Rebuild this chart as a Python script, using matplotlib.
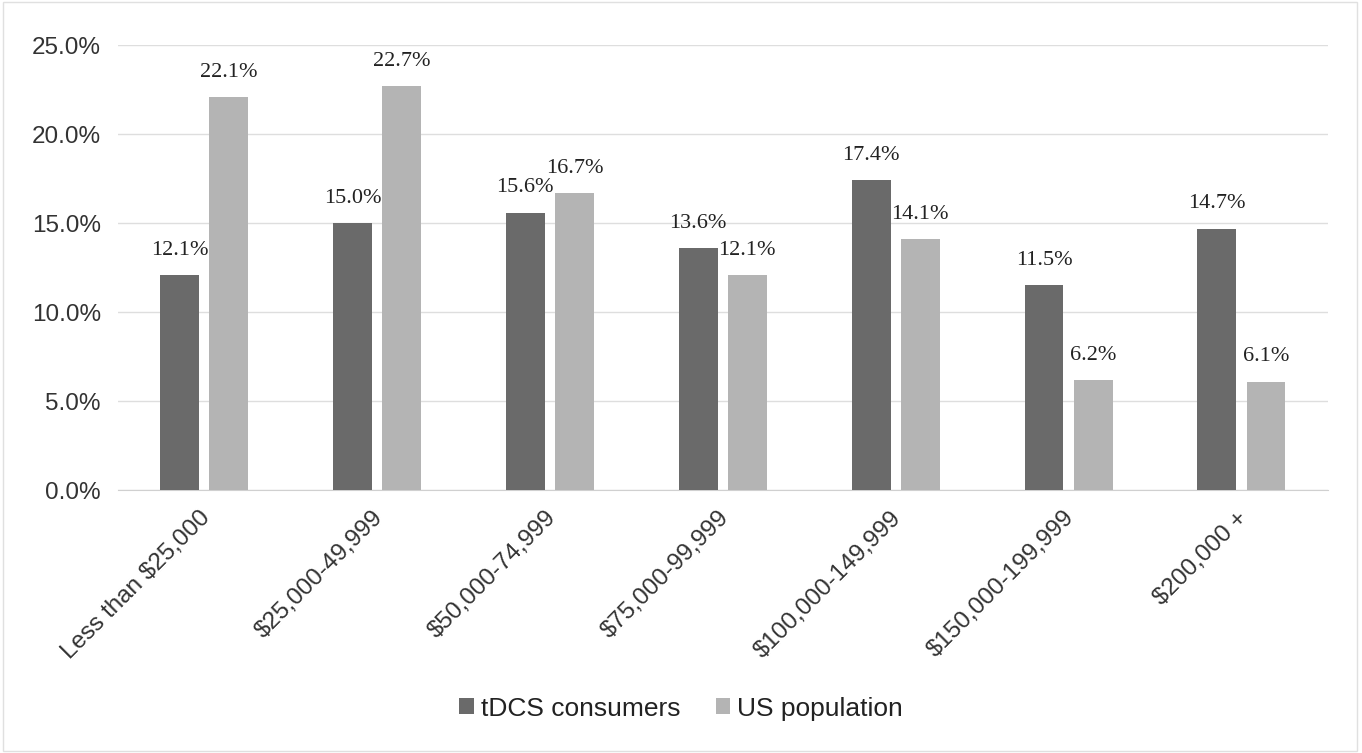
import numpy as np
import matplotlib
matplotlib.use("Agg")
import matplotlib.pyplot as plt

# Household income brackets and share of each group (%)
categories = ["Less than $25,000", "$25,000-49,999", "$50,000-74,999",
              "$75,000-99,999", "$100,000-149,999", "$150,000-199,999",
              "$200,000 +"]
tdcs_consumers = [12.1, 15.0, 15.6, 13.6, 17.4, 11.5, 14.7]
us_population = [22.1, 22.7, 16.7, 12.1, 14.1, 6.2, 6.1]
series_names = ["tDCS consumers", "US population"]
y_ticks = [0, 5, 10, 15, 20, 25]

dark = "#6a6a6a"
light = "#b4b4b4"

fig = plt.figure(figsize=(13.62, 7.53), dpi=100)
ax = fig.add_axes([0.0863, 0.349, 0.8887, 0.591])

x = np.arange(len(categories))
width = 0.225
offset = 0.142

b1 = ax.bar(x - offset, tdcs_consumers, width, color=dark, label=series_names[0], zorder=3)
b2 = ax.bar(x + offset, us_population, width, color=light, label=series_names[1], zorder=3)

for bars, vals in ((b1, tdcs_consumers), (b2, us_population)):
    for rect, v in zip(bars, vals):
        ax.annotate(f"{v:.1f}%", (rect.get_x() + rect.get_width() / 2, v),
                    xytext=(0, 11), textcoords="offset points",
                    ha="center", va="bottom", fontsize=16,
                    family="Liberation Serif", color="#222222")

ax.set_xlim(-0.5, len(categories) - 0.5)
ax.set_ylim(0, 25)
ax.set_yticks(y_ticks)
ax.set_yticklabels([f"{t:.1f}%" for t in y_ticks], fontsize=17.5,
                   family="Liberation Sans", color="#333333")
ax.set_xticks(x)
ax.set_xticklabels(categories, rotation=45, ha="right", rotation_mode="anchor",
                   fontsize=17.5, family="Liberation Sans", color="#333333")
ax.tick_params(axis="y", length=0, pad=12)
ax.tick_params(axis="x", length=0, pad=12)
# nudge the slanted category labels a little to the left
from matplotlib.transforms import ScaledTranslation
for lbl in ax.get_xticklabels():
    lbl.set_transform(lbl.get_transform() + ScaledTranslation(-0.05, 0, fig.dpi_scale_trans))

ax.yaxis.grid(True, color="#dedede", linewidth=1, zorder=0)
for side in ("top", "right", "left"):
    ax.spines[side].set_visible(False)
ax.spines["bottom"].set_color("#d0d0d0")

fig.legend(handles=[b1, b2], loc="center", bbox_to_anchor=(0.5, 0.059), ncol=2,
           frameon=False, handlelength=0.55, handleheight=0.55, handletextpad=0.25,
           columnspacing=1.35, prop={"family": "Liberation Sans", "size": 19},
           labelcolor="#222222")

# light frame around the whole chart
fig.patches.append(plt.Rectangle((0.002, 0.003), 0.994, 0.994, transform=fig.transFigure,
                                 fill=False, edgecolor="#e0e0e0", linewidth=1))

fig.savefig("out.png", dpi=100)
